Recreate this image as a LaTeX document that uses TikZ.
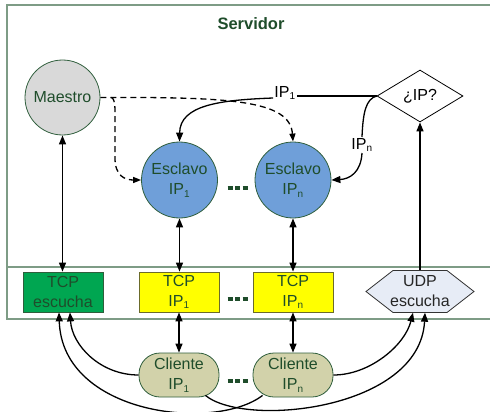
\documentclass[tikz,border=0pt]{standalone}
\usepackage{fontspec}
\setmainfont{Liberation Sans}
\usetikzlibrary{shapes.geometric,arrows.meta}
\definecolor{framec}{HTML}{7E9C86}
\definecolor{dkgreen}{HTML}{1F4D2B}
\definecolor{bordc}{HTML}{2F5E3C}
\definecolor{mastf}{HTML}{D9D9D9}
\definecolor{slavef}{HTML}{6F9FD9}
\definecolor{tcplf}{HTML}{00A651}
\definecolor{tcpcf}{HTML}{FFFF00}
\definecolor{tcpcb}{HTML}{6B6B2A}
\definecolor{udpf}{HTML}{E7ECF6}
\definecolor{clif}{HTML}{D2D2AA}
\newcommand\subi[1]{\textsubscript{\fontsize{10}{10}\selectfont #1}}
\newcommand\mydots{\rule{5pt}{4.5pt}\hspace{2.5pt}\rule{5pt}{4.5pt}\hspace{2.5pt}\rule{5pt}{4.5pt}}
\tikzset{
  lbl/.style={font=\fontsize{16}{20}\selectfont, align=center, text=dkgreen},
  master/.style={lbl, circle, draw=bordc, fill=mastf, minimum size=75pt, inner sep=0pt, line width=0.8pt},
  slave/.style={lbl, circle, draw=bordc, fill=slavef, minimum size=76pt, inner sep=0pt, line width=0.8pt},
  decision/.style={lbl, text=black, diamond, draw=black, fill=white, minimum width=86pt, minimum height=52pt, inner sep=0pt, line width=0.8pt},
  tcpl/.style={lbl, rectangle, draw=bordc, fill=tcplf, minimum width=80pt, minimum height=40pt, inner sep=0pt, line width=0.8pt},
  tcpc/.style={lbl, rectangle, draw=tcpcb, fill=tcpcf, minimum width=80pt, minimum height=40pt, inner sep=0pt, line width=0.8pt},
  udpbox/.style={lbl, text=black!85, rectangle, minimum width=108pt, minimum height=42pt, inner sep=0pt},
  cli/.style={lbl, rectangle, rounded corners=21pt, draw=bordc, fill=clif, minimum width=80pt, minimum height=44pt, inner sep=0pt, line width=0.8pt},
  title/.style={font=\fontsize{16.5}{20}\selectfont\bfseries, text=dkgreen},
  iplbl/.style={font=\fontsize{16}{20}\selectfont, text=black, inner sep=1pt},
  dotsn/.style={text=dkgreen, inner sep=0pt},
  conn/.style={line width=1.3pt, black},
  arr/.style={conn, -{Triangle[length=9pt,width=7pt]}},
  darr/.style={conn, {Triangle[length=9pt,width=7pt]}-{Triangle[length=9pt,width=7pt]}},
  dasharr/.style={conn, dashed, dash pattern=on 6pt off 4pt, -{Triangle[length=8pt,width=6pt]}},
  framel/.style={draw=framec, line width=1.6pt}
}
\begin{document}
\begin{tikzpicture}[x=1pt,y=-1pt]
\useasboundingbox (0,0) rectangle (490,412);
% frame
\draw[framel] (7,5) rectangle (496,319);
\draw[framel, line width=1.2pt] (7,267) -- (496,267);
\node[title] (srv) at (251,24) {Servidor};
% nodes
\node[master] (m) at (62.5,97.5) {Maestro};
\node[slave] (e1) at (179.5,180) {Esclavo\\IP\subi{1}};
\node[slave] (en) at (293,180) {Esclavo\\IP\subi{n}};
\node[dotsn] (d1) at (237.5,188) {\mydots};
\node[decision] (ip) at (420,96) {¿IP?};
\node[tcpl] (tcpe) at (63,292) {TCP\\escucha};
\node[tcpc] (t1) at (179,292) {TCP\\IP\subi{1}};
\node[tcpc] (tn) at (293,292) {TCP\\IP\subi{n}};
\node[dotsn] (d2) at (237.5,299) {\mydots};
\draw[draw=black!80, fill=udpf, line width=0.8pt] (366,291.5) -- (393,270.5) -- (447,270.5) -- (474,291.5) -- (447,312.5) -- (393,312.5) -- cycle;
\node[udpbox] (udp) at (420,291.5) {UDP\\escucha};
\node[cli] (c1) at (179,375) {Cliente\\IP\subi{1}};
\node[cli] (cn) at (293,375) {Cliente\\IP\subi{n}};
\node[dotsn] (d3) at (237.5,381) {\mydots};
\node[iplbl] (ip1) at (285,93) {IP\subi{1}};
\node[iplbl] (ipn) at (362,145) {IP\subi{n}};
% vertical connectors
\draw[darr] (m.south) -- (m.south |- tcpe.north);
\draw[darr] (e1.south) -- (e1.south |- t1.north);
\draw[darr] (en.south) -- (en.south |- tn.north);
\draw[darr] (t1.south) -- (t1.south |- c1.north);
\draw[darr] (tn.south) -- (tn.south |- cn.north);
\draw[arr] (udp.north) -- (ip.south);
% IP routing
\draw[conn] (ip.west) -- (ip1.east |- ip.west);
\draw[arr] ([yshift=-5pt]ip1.west) .. controls (220,100) and (180,105) .. (e1.north);
\draw[conn] (ip.west) .. controls (366,99) and (363,112) .. (ipn.north);
\draw[arr] (ipn.south) .. controls (361,172) and (350,179) .. (en.east);
% master dashed
\coordinate (mb) at (111,97.5);
\draw[dasharr] (m.east) .. controls (230,97) and (290,100) .. (en.north);
\draw[dasharr] (mb) .. controls (116,98) and (115,112) .. (115,128) -- (115,158) .. controls (115,176) and (125,180) .. (e1.west);
% client curves
\draw[arr] (c1.west) .. controls (100,375) and (72,345) .. ([xshift=7pt]tcpe.south);
\draw[arr] ([xshift=10pt,yshift=2pt]cn.south west) .. controls (215,432) and (62,415) .. ([xshift=-4pt]tcpe.south);
\draw[arr] ([xshift=-14pt,yshift=2pt]c1.south east) .. controls (245,428) and (420,410) .. ([xshift=5pt]udp.south);
\draw[arr] (cn.east) .. controls (370,375) and (405,345) .. ([xshift=-7pt]udp.south);
\end{tikzpicture}
\end{document}
